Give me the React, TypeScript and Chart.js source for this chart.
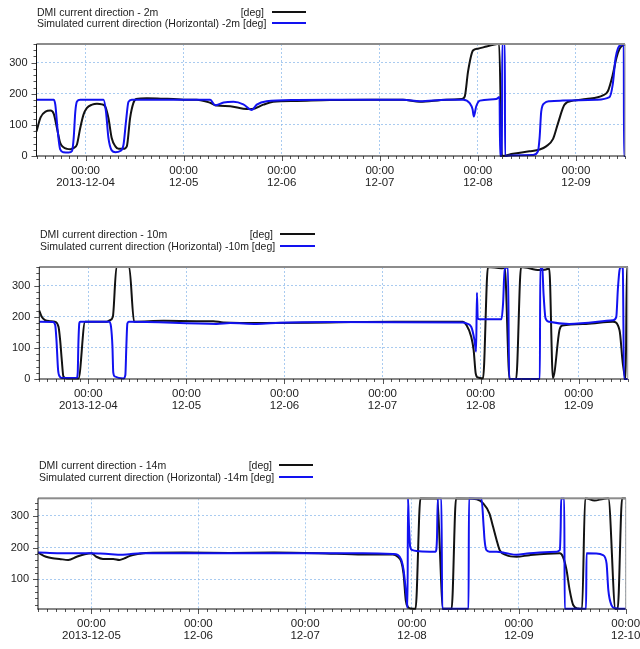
import React, { useEffect, useRef } from 'react';
import { Chart, registerables } from 'chart.js';

Chart.register(...registerables);

// ---------- DATA (hours relative to 2013-12-04 00:00, direction in degrees) ----------

// Panel 1 : 2 m
const P1_DMI_H = [-12, -11, -9.8, -8.6, -7.8, -7.0, -6.2, -5.4, -4.5, -3.7, -2.9, -2.1, -1.3, -0.5, 0.3, 1.6, 2.8, 4.0, 4.8, 5.6, 6.4, 7.3, 8.1, 9.3, 10.1, 10.9, 11.7, 12.4, 15, 19, 21.5, 24, 27.2, 30.5, 32.1, 35.4, 38.6, 40.7, 43.5, 45.9, 51.7, 59.8, 70, 77.7, 81.8, 88.3, 92.0, 92.8, 93.6, 94.8, 96.0, 98.1, 100.1, 100.9, 101.2, 101.9, 104.6, 108.6, 111.1, 112.7, 114.4, 115.6, 117.2, 119.3, 122.5, 126.6, 127.8, 129.0, 129.9, 130.7, 131.5, 132];
const P1_DMI_V = [79, 124, 143, 146, 136, 90, 42, 28, 23, 22, 26, 37, 90, 133, 154, 165, 168, 166, 159, 122, 58, 31, 23, 23, 31, 122, 170, 183, 186, 184, 183, 181, 181, 171, 162, 160, 152, 151, 165, 174, 177, 180, 181, 181, 174, 181, 183, 192, 272, 339, 345, 352, 358, 360, 360, 0, 7, 15, 21, 31, 55, 105, 165, 178, 183, 195, 208, 261, 315, 345, 356, 358];
const P1_SIM_H = [-12, -7.8, -7.4, -6.8, -6.2, -5.4, -4.1, -3.3, -2.9, -2.5, -2.1, -1.3, 4.4, 5.0, 5.6, 6.4, 7.3, 8.5, 9.3, 9.9, 10.5, 11.3, 30.5, 31.7, 33.8, 36.2, 38.6, 40.7, 41.9, 44.3, 51.7, 59.8, 77.7, 81.8, 88.3, 92.4, 94.0, 94.7, 95.0, 95.6, 96.5, 100.5, 101.3, 101.45, 101.9, 101.95, 102.6, 102.65, 104, 109.5, 110.7, 111.1, 111.5, 112.3, 113.6, 116.8, 125.0, 128.2, 129.0, 129.7, 130.3, 131.1, 131.7, 131.75, 132];
const P1_SIM_V = [181, 181, 165, 79, 21, 12, 11, 16, 58, 143, 175, 181, 181, 143, 58, 18, 12, 16, 37, 111, 174, 181, 181, 163, 172, 174, 166, 148, 165, 176, 180, 181, 181, 176, 181, 181, 170, 150, 127, 160, 178, 183, 190, 0, 0, 360, 360, 0, 2, 3, 15, 58, 143, 170, 176, 178, 181, 189, 230, 315, 347, 358, 360, 0, 0];

// Panel 2 : 10 m
const P2_DMI_H = [-12, -11.4, -10.6, -9.4, -8.2, -7.3, -6.9, -6.5, -6.1, -5.3, -2.4, -0.8, 4.5, 5.3, 6.0, 6.9, 10.0, 11.2, 18.4, 26.5, 30.6, 33, 42.8, 59.1, 75, 91.7, 92.5, 93.7, 94.3, 94.8, 95.3, 96.6, 97.8, 101.1, 101.9, 103.1, 104.7, 105.9, 110.4, 112.0, 112.8, 113.7, 115.3, 116.0, 121.8, 128.4, 130.0, 130.8, 131.5, 131.8, 132];
const P2_DMI_V = [220, 200, 189, 186, 184, 168, 125, 61, 8, 2, 2, 184, 184, 189, 200, 360, 360, 184, 187, 186, 186, 182, 180, 182, 184, 184, 174, 136, 93, 18, 5, 2, 360, 356, 358, 0, 0, 360, 350, 352, 355, 3, 157, 172, 177, 184, 157, 50, 0, 360, 360];
const P2_SIM_H = [-12, -8.7, -8.1, -7.8, -7.4, -7.0, -6.5, -2.85, -2.6, -2.44, -2.2, -2.0, 5.1, 5.55, 5.9, 6.1, 6.5, 8.6, 9.06, 9.3, 9.55, 9.9, 31.4, 34.7, 41.2, 46.9, 59.1, 91.7, 92.5, 93.7, 94.5, 94.9, 95.1, 95.3, 95.8, 101.1, 101.5, 101.9, 102.7, 103.0, 110.5, 110.6, 111.1, 111.4, 111.9, 112.8, 117.7, 128.4, 129.2, 129.6, 130.0, 130.4, 130.8, 131.1, 132];
const P2_SIM_V = [184, 183, 173, 125, 29, 8, 3, 3, 18, 111, 180, 184, 184, 168, 104, 21, 8, 2, 13, 104, 178, 184, 177, 180, 177, 181, 183, 182, 179, 168, 125, 88, 277, 195, 192, 192, 243, 357, 358, 0, 0, 360, 355, 275, 195, 184, 177, 189, 199, 290, 350, 360, 355, 0, 0];

// Panel 3 : 14 m
const P3_DMI_H = [12, 13.8, 15.3, 16.8, 18.8, 20.7, 22.5, 24.0, 25.1, 26.6, 28.9, 30.3, 31.4, 32.5, 34.7, 36.2, 45, 55, 65, 75, 85, 91.7, 92.8, 93.6, 94.1, 94.6, 95.1, 95.8, 96.8, 97.9, 101.6, 103.0, 104.9, 105.9, 110.5, 112.0, 113.4, 114.2, 115.0, 115.7, 117.2, 119.5, 122.4, 129.2, 129.9, 130.7, 131.4, 132.2, 133.3, 134.2, 134.9, 137, 138.9, 140.1, 141.7, 142.2, 143.2, 144];
const P3_DMI_V = [184, 171, 166, 164, 161, 171, 179, 182, 171, 164, 164, 161, 166, 173, 180, 183, 184, 183, 184, 182, 178, 178, 171, 155, 118, 34, 13, 8, 7, 355, 354, 7, 7, 355, 352, 339, 307, 266, 224, 192, 176, 171, 176, 182, 171, 130, 67, 19, 8, 7, 355, 348, 353, 355, 7, 7, 355, 355];
const P3_SIM_H = [12, 20, 24, 26, 28.5, 30.5, 32.5, 35, 45, 60, 77.5, 85, 91.7, 92.8, 93.6, 94.1, 94.6, 94.9, 95.0, 95.1, 95.3, 95.6, 96.1, 97.0, 100.0, 101.3, 101.6, 101.8, 102.6, 102.8, 108.7, 108.8, 111.6, 112.1, 112.3, 112.7, 113.4, 115, 117.2, 119.5, 122.4, 128.5, 129.2, 129.4, 129.5, 130.2, 130.3, 135.1, 135.2, 137.4, 138.9, 139.7, 140.1, 140.8, 141.6, 143.8, 144];
const P3_SIM_V = [184, 182, 182, 181, 179, 177, 179, 182, 182, 182, 182, 182, 180, 177, 161, 130, 67, 24, 10, 355, 275, 202, 192, 189, 187, 187, 224, 354, 354, 7, 7, 355, 354, 265, 224, 192, 187, 187, 182, 177, 182, 187, 192, 265, 354, 354, 7, 7, 182, 181, 176, 150, 66, 19, 9, 7, 7];

// Tick positions / labels
const DAY_TICKS_A = [0, 24, 48, 72, 96, 120];
const DAY_LABELS_A = [['00:00', '2013-12-04'], ['00:00', '12-05'], ['00:00', '12-06'], ['00:00', '12-07'], ['00:00', '12-08'], ['00:00', '12-09']];
const DAY_TICKS_B = [24, 48, 72, 96, 120, 144];
const DAY_LABELS_B = [['00:00', '2013-12-05'], ['00:00', '12-06'], ['00:00', '12-07'], ['00:00', '12-08'], ['00:00', '12-09'], ['00:00', '12-10']];
const Y_TICKS_A = [0, 100, 200, 300];
const Y_TICKS_B = [100, 200, 300];

const LABELS = [
  ['DMI current direction - 2m', 'Simulated current direction (Horizontal) -2m [deg]'],
  ['DMI current direction - 10m', 'Simulated current direction (Horizontal) -10m [deg]'],
  ['DMI current direction - 14m', 'Simulated current direction (Horizontal) -14m [deg]'],
];

// ---------- STYLE ----------
const FONT = '"Liberation Sans", Arial, Helvetica, sans-serif';
const BLACK = 'rgb(18,18,18)';
const BLUE = 'rgb(18,18,240)';
const GRID = 'rgba(140,185,235,0.75)';
const TEXT = '#222';

const framePlugin = {
  id: 'frame',
  afterDraw(chart: any) {
    const { ctx, chartArea, scales } = chart;
    const { left, right, top, bottom } = chartArea;
    const x = scales.x;
    const y = scales.y;
    ctx.save();
    ctx.strokeStyle = '#555';
    ctx.lineWidth = 1;
    ctx.beginPath();
    for (let v = Math.ceil(x.min / 2) * 2; v <= x.max + 0.001; v += 2) {
      const px = Math.round(x.getPixelForValue(v)) + 0.5;
      const len = v % 24 === 0 ? 5 : 3;
      ctx.moveTo(px, bottom);
      ctx.lineTo(px, bottom + len);
    }
    for (let v = Math.ceil(y.min / 20) * 20; v <= y.max + 0.001; v += 20) {
      const py = Math.round(y.getPixelForValue(v)) + 0.5;
      const len = v % 100 === 0 ? 5 : 3;
      ctx.moveTo(left, py);
      ctx.lineTo(left - len, py);
    }
    ctx.stroke();
    // frame
    ctx.fillStyle = '#8c8c8c';
    ctx.fillRect(left, top - 1, right - left, 2);
    ctx.fillStyle = '#9a9a9a';
    ctx.fillRect(right - 0.5, top, 1, bottom - top);
    ctx.fillStyle = '#111';
    ctx.fillRect(left - 0.5, top, 1, bottom - top + 0.5);
    ctx.fillRect(left - 0.5, bottom - 0.5, right - left + 0.5, 1);
    ctx.restore();
  },
};

type PanelProps = {
  top: number;
  height: number;
  area: { left: number; right: number; top: number; bottom: number };
  xMin: number;
  xMax: number;
  yMin: number;
  yMax: number;
  dayTicks: number[];
  dayLabels: string[][];
  yTicks: number[];
  dmiH: number[];
  dmiV: number[];
  simH: number[];
  simV: number[];
};

function Panel(p: PanelProps) {
  const ref = useRef<HTMLCanvasElement>(null);
  useEffect(() => {
    const toPts = (h: number[], v: number[]) => h.map((hh, i) => ({ x: hh, y: v[i] }));
    const chart = new Chart(ref.current as HTMLCanvasElement, {
      type: 'line',
      data: {
        datasets: [
          {
            data: toPts(p.dmiH, p.dmiV),
            borderColor: BLACK,
            borderWidth: 2,
            pointRadius: 0,
            cubicInterpolationMode: 'monotone',
            order: 2,
            clip: 1,
          } as any,
          {
            data: toPts(p.simH, p.simV),
            borderColor: BLUE,
            borderWidth: 2,
            pointRadius: 0,
            cubicInterpolationMode: 'monotone',
            order: 1,
            clip: 1,
          } as any,
        ],
      },
      options: {
        responsive: false,
        animation: false,
        events: [],
        layout: {
          padding: {
            left: 0,
            right: 640 - p.area.right,
            top: p.area.top,
            bottom: p.height - p.area.bottom - 40,
          },
        },
        plugins: { legend: { display: false }, tooltip: { enabled: false } },
        scales: {
          x: {
            type: 'linear',
            min: p.xMin,
            max: p.xMax,
            afterBuildTicks: (s: any) => {
              s.ticks = p.dayTicks.map((v) => ({ value: v }));
            },
            afterFit: (s: any) => {
              s.height = 40;
              s.paddingLeft = 0;
              s.paddingRight = 0;
            },
            ticks: {
              autoSkip: false,
              maxRotation: 0,
              minRotation: 0,
              padding: 9,
              color: TEXT,
              font: { family: FONT, size: 11.5, lineHeight: 1.05 },
              callback: (_v: any, i: number) => p.dayLabels[i],
            },
            grid: { color: GRID, lineWidth: 1, drawTicks: false },
            border: { display: false, dash: [2, 2] },
          },
          y: {
            type: 'linear',
            min: p.yMin,
            max: p.yMax,
            afterBuildTicks: (s: any) => {
              s.ticks = p.yTicks.map((v) => ({ value: v }));
            },
            afterFit: (s: any) => {
              s.width = p.area.left;
              s.paddingTop = 0;
              s.paddingBottom = 0;
            },
            ticks: {
              padding: 9,
              color: TEXT,
              font: { family: FONT, size: 11 },
              callback: (v: any) => String(v),
            },
            grid: {
              color: (c: any) => (c.tick && c.tick.value === 0 ? 'rgba(0,0,0,0)' : GRID),
              lineWidth: 1,
              drawTicks: false,
            },
            border: { display: false, dash: [2, 2] },
          },
        },
      } as any,
      plugins: [framePlugin],
    });
    return () => chart.destroy();
  }, []);
  return (
    <canvas
      ref={ref}
      width={640}
      height={p.height}
      style={{ position: 'absolute', left: 0, top: p.top, width: 640, height: p.height }}
    />
  );
}

type LegendProps = {
  left: number;
  y1: number;
  y2: number;
  degRight: number;
  lineLeft: number;
  lineRight: number;
  labels: string[];
};

function Legend(l: LegendProps) {
  const txt: React.CSSProperties = {
    position: 'absolute',
    height: 12,
    lineHeight: '12px',
    whiteSpace: 'nowrap',
    fontFamily: FONT,
    fontSize: 10.5,
    color: TEXT,
  };
  return (
    <>
      <div style={{ ...txt, left: l.left, top: l.y1 - 6 }}>{l.labels[0]}</div>
      <div style={{ ...txt, right: 640 - l.degRight, top: l.y1 - 6, textAlign: 'right' }}>[deg]</div>
      <div style={{ ...txt, left: l.left, top: l.y2 - 6 }}>{l.labels[1]}</div>
      <div style={{ position: 'absolute', left: l.lineLeft, top: l.y1 - 1, width: l.lineRight - l.lineLeft, height: 2, background: BLACK }} />
      <div style={{ position: 'absolute', left: l.lineLeft, top: l.y2 - 1, width: l.lineRight - l.lineLeft, height: 2, background: BLUE }} />
    </>
  );
}

export default function App() {
  return (
    <div
      style={{
        position: 'fixed',
        left: 0,
        top: 0,
        width: 640,
        height: 649,
        overflow: 'hidden',
        background: '#fff',
      }}
    >
      <Panel
        top={0}
        height={200}
        area={{ left: 36.5, right: 625, top: 44, bottom: 156 }}
        xMin={-12}
        xMax={132}
        yMin={0}
        yMax={360}
        dayTicks={DAY_TICKS_A}
        dayLabels={DAY_LABELS_A}
        yTicks={Y_TICKS_A}
        dmiH={P1_DMI_H}
        dmiV={P1_DMI_V}
        simH={P1_SIM_H}
        simV={P1_SIM_V}
      />
      <Panel
        top={220}
        height={200}
        area={{ left: 39.3, right: 627.7, top: 47, bottom: 159 }}
        xMin={-12}
        xMax={132}
        yMin={0}
        yMax={360}
        dayTicks={DAY_TICKS_A}
        dayLabels={DAY_LABELS_A}
        yTicks={Y_TICKS_A}
        dmiH={P2_DMI_H}
        dmiV={P2_DMI_V}
        simH={P2_SIM_H}
        simV={P2_SIM_V}
      />
      <Panel
        top={440}
        height={209}
        area={{ left: 38, right: 625.7, top: 58.3, bottom: 169 }}
        xMin={12}
        xMax={144}
        yMin={6.5}
        yMax={355}
        dayTicks={DAY_TICKS_B}
        dayLabels={DAY_LABELS_B}
        yTicks={Y_TICKS_B}
        dmiH={P3_DMI_H}
        dmiV={P3_DMI_V}
        simH={P3_SIM_H}
        simV={P3_SIM_V}
      />
      <Legend left={37} y1={11.7} y2={23.3} degRight={264} lineLeft={272} lineRight={306} labels={LABELS[0]} />
      <Legend left={40} y1={234} y2={245.7} degRight={273} lineLeft={280} lineRight={315} labels={LABELS[1]} />
      <Legend left={39} y1={465} y2={476.7} degRight={272} lineLeft={279} lineRight={313} labels={LABELS[2]} />
    </div>
  );
}
